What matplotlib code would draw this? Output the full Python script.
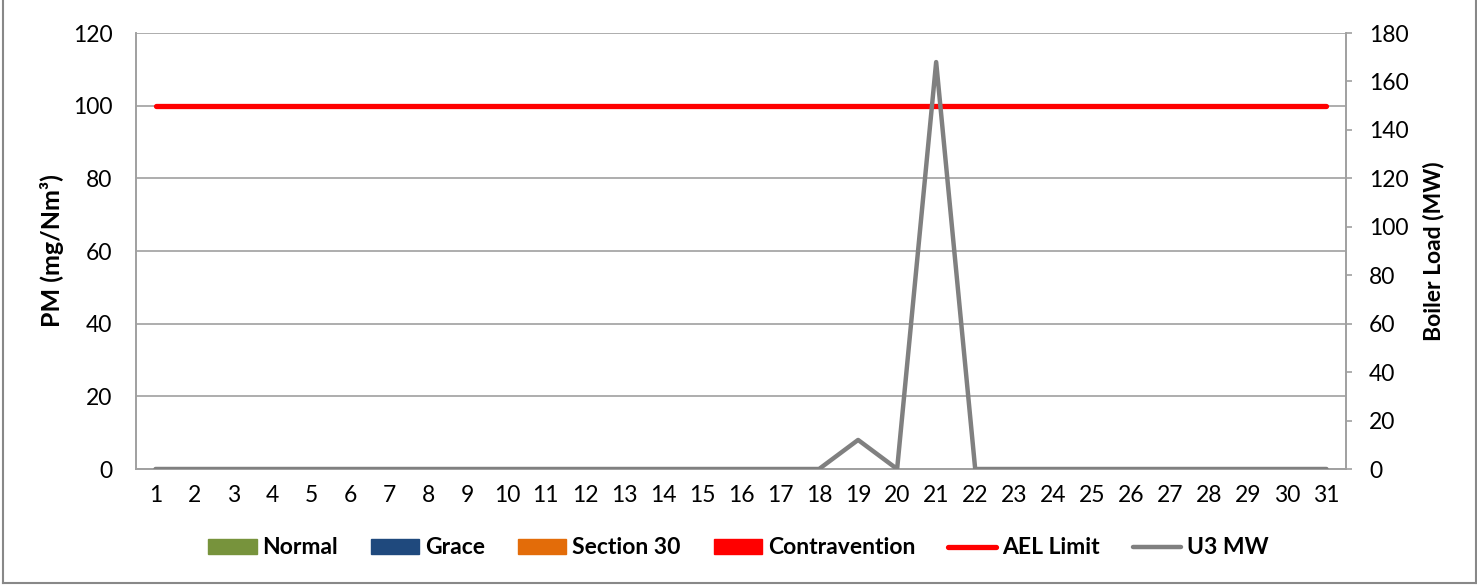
import matplotlib
matplotlib.use("Agg")
import matplotlib.pyplot as plt
from matplotlib.lines import Line2D
from matplotlib.patches import Patch
import numpy as np

days = list(range(1, 32))
normal = [0] * 31
grace = [0] * 31
section30 = [0] * 31
contravention = [0] * 31
ael_limit = [100] * 31
u3_mw = [0] * 18 + [12, 0, 168, 0] + [0] * 9

left_ticks = [0, 20, 40, 60, 80, 100, 120]
right_ticks = [0, 20, 40, 60, 80, 100, 120, 140, 160, 180]

plt.rcParams['font.family'] = ['Lato', 'DejaVu Sans']

W, H = 1477, 585
AX_L, AX_R, AX_T, AX_B = 136, 1346, 33, 469
fig = plt.figure(figsize=(W / 100, H / 100), dpi=100)
ax = fig.add_axes([AX_L / W, 1 - AX_B / H, (AX_R - AX_L) / W, (AX_B - AX_T) / H])
ax2 = ax.twinx()

x = np.array(days)
bw = 0.18
cols = ['#77933C', '#1F497D', '#E36C09', '#FF0000']
for i, (vals, c) in enumerate(zip([normal, grace, section30, contravention], cols)):
    ax.bar(x + (i - 1.5) * bw, vals, width=bw, color=c, zorder=2)

ax.plot(x, ael_limit, color='#FF0000', lw=3.8, solid_capstyle='round', zorder=3)
ax2.plot(x, u3_mw, color='#808080', lw=3.2, solid_capstyle='round', zorder=3)

ax.set_xlim(0.5, 31.5)
ax.set_ylim(0, 120)
ax2.set_ylim(0, 180)
ax.set_yticks(left_ticks)
ax2.set_yticks(right_ticks)
ax.set_xticks(days)
ax.set_xticklabels([str(d) for d in days])

ax.yaxis.grid(True, color='#A0A0A0', lw=1.2, zorder=0)
ax.set_axisbelow(True)
for a in (ax, ax2):
    for s in a.spines.values():
        s.set_color('#A0A0A0')
        s.set_linewidth(1.2)
    a.spines['top'].set_visible(False)
TS = 16.5
ax.tick_params(axis='x', length=0, labelsize=TS, pad=11.5)
ax.tick_params(axis='y', length=0, labelsize=TS, pad=17)
ax2.tick_params(axis='y', length=4.5, color='#A0A0A0', width=1.2, labelsize=TS, pad=12)

ax.set_ylabel('PM (mg/Nm³)', fontsize=18, fontweight='bold')
ax2.set_ylabel('Boiler Load (MW)', fontsize=16.5, fontweight='bold')
ax.yaxis.set_label_coords((52 - AX_L) / (AX_R - AX_L), 0.5)
ax2.yaxis.set_label_coords((1433 - AX_L) / (AX_R - AX_L), 0.5)
ax.yaxis.label.set_va('center')
ax2.yaxis.label.set_va('center')

handles = [Patch(color=c) for c in cols] + [
    Line2D([0], [0], color='#FF0000', lw=3.8, solid_capstyle='round'),
    Line2D([0], [0], color='#808080', lw=3.2, solid_capstyle='round')]
labels = ['Normal', 'Grace', 'Section 30', 'Contravention', 'AEL Limit', 'U3 MW']
fig.legend(handles, labels, loc='center', bbox_to_anchor=(0.5, 1 - 548 / H), ncol=6,
           frameon=False, prop={'weight': 'bold', 'size': 16.5},
           handlelength=2.1, handleheight=0.6, handletextpad=0.25, columnspacing=1.45)

# outer border
bc = '#888888'
fig.add_artist(Line2D([3 / W, 3 / W], [1 - 583 / H, 1], color=bc, lw=1.5, transform=fig.transFigure))
fig.add_artist(Line2D([1476 / W, 1476 / W], [1 - 583 / H, 1], color=bc, lw=1.5, transform=fig.transFigure))
fig.add_artist(Line2D([3 / W, 1476 / W], [1 - 583 / H, 1 - 583 / H], color=bc, lw=1.5, transform=fig.transFigure))

fig.savefig('out.png', dpi=100)
